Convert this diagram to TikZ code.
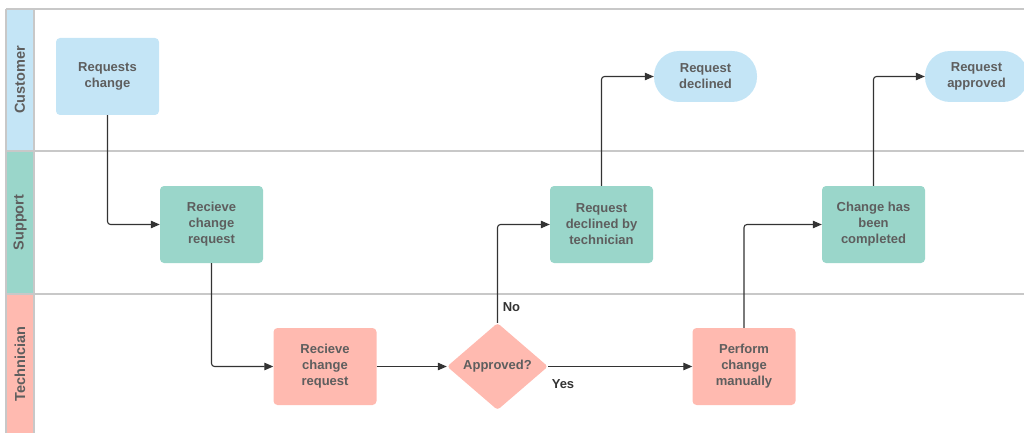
\documentclass[tikz,border=0pt]{standalone}
\usepackage{fontspec}
\setmainfont{Liberation Sans}
\usetikzlibrary{arrows.meta,shapes.geometric}

\definecolor{blueH}{HTML}{C4E5F6}
\definecolor{tealH}{HTML}{9AD6CA}
\definecolor{salmonH}{HTML}{FFBAB0}
\definecolor{laneline}{HTML}{C8C8C8}
\definecolor{txt}{HTML}{5E5E5E}
\definecolor{conncol}{HTML}{333333}

\begin{document}
\begin{tikzpicture}[x=1pt,y=-1pt,
  lane/.style={draw=laneline,line width=1.5pt},
  lanelabel/.style={rotate=90,text=txt,font=\bfseries\fontsize{14.5}{17}\selectfont},
  box/.style={rectangle,rounded corners=4pt,minimum width=103pt,minimum height=77pt,
    inner sep=0pt,align=center,text=txt,font=\bfseries\fontsize{13}{16}\selectfont},
  bluebox/.style={box,fill=blueH},
  tealbox/.style={box,fill=tealH},
  salmonbox/.style={box,fill=salmonH},
  terminal/.style={box,fill=blueH,rounded corners=25pt,minimum height=51pt},
  decision/.style={diamond,fill=salmonH,rounded corners=3pt,minimum width=101pt,
    minimum height=87pt,inner sep=0pt,text=txt,font=\bfseries\fontsize{13}{16}\selectfont},
  conn/.style={draw=conncol,line width=1.1pt,rounded corners=3pt,
    -{Triangle[length=9pt,width=7.5pt]}},
  edgelabel/.style={text=conncol,font=\bfseries\fontsize{13}{16}\selectfont,inner sep=0pt}
]
\useasboundingbox (0,0) rectangle (1024,433);

% swimlane headers
\fill[blueH]   (6,9)   rectangle (34,151);
\fill[tealH]   (6,151) rectangle (34,294);
\fill[salmonH] (6,294) rectangle (34,433);

% swimlane borders
\draw[lane] (6,9) -- (1030,9);
\draw[lane] (6,151) -- (1030,151);
\draw[lane] (6,294) -- (1030,294);
\draw[lane] (6,9) -- (6,440);
\draw[lane] (34,9) -- (34,440);

\node[lanelabel] (lcust) at (20,80) {Customer};
\node[lanelabel] (lsupp) at (20,222.5) {Support};
\node[lanelabel] (ltech) at (20,364) {Technician};

% process steps
\node[bluebox]   (req)      at (107.5,76.5) {Requests\\change};
\node[tealbox]   (recsupp)  at (211.5,224.5) {Recieve\\change\\request};
\node[salmonbox] (rectech)  at (325,366.5) {Recieve\\change\\request};
\node[decision]  (approved) at (497.5,366.5) {Approved?};
\node[tealbox]   (declby)   at (601.5,224.5) {Request\\declined by\\technician};
\node[terminal]  (declined) at (705.5,76.5) {Request\\declined};
\node[salmonbox] (perform)  at (744,366.5) {Perform\\change\\manually};
\node[tealbox]   (done)     at (873.5,224.5) {Change has\\been\\completed};
\node[terminal]  (appr)     at (976.5,76.5) {Request\\approved};

% connectors
\draw[conn] (req.south) |- (recsupp.west);
\draw[conn] (recsupp.south) |- (rectech.west);
\draw[conn] (rectech.east) -- (approved.west);
\draw[conn] (approved.north) |- (declby.west);
\draw[conn] (approved.east) -- (perform.west);
\draw[conn] (declby.north) |- (declined.west);
\draw[conn] (perform.north) |- (done.west);
\draw[conn] (done.north) |- (appr.west);

\node[edgelabel] (lno)  at (511.5,307) {No};
\node[edgelabel] (lyes) at (563,384) {Yes};
\end{tikzpicture}
\end{document}
